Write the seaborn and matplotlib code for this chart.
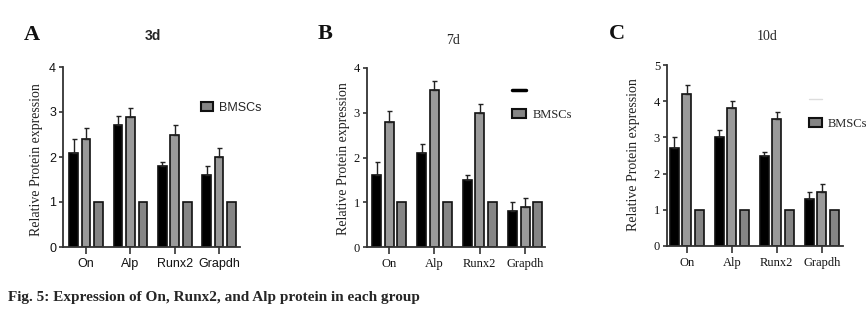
import matplotlib
matplotlib.use("Agg")
import matplotlib.pyplot as plt
import seaborn as sns
import pandas as pd
from matplotlib.patches import Patch
from matplotlib.lines import Line2D

genes = ["On", "Alp", "Runx2", "Grapdh"]
groups = ["Treated", "BMSCs", "Control"]

# 3 days
treated_3d = [2.1, 2.7, 1.8, 1.6]
treated_3d_err = [0.3, 0.2, 0.1, 0.2]
bmscs_3d = [2.4, 2.9, 2.5, 2.0]
bmscs_3d_err = [0.25, 0.2, 0.2, 0.2]
control_3d = [1.0, 1.0, 1.0, 1.0]

# 7 days
treated_7d = [1.6, 2.1, 1.5, 0.8]
treated_7d_err = [0.3, 0.2, 0.1, 0.2]
bmscs_7d = [2.8, 3.5, 3.0, 0.9]
bmscs_7d_err = [0.25, 0.2, 0.2, 0.2]
control_7d = [1.0, 1.0, 1.0, 1.0]

# 10 days
treated_10d = [2.7, 3.0, 2.5, 1.3]
treated_10d_err = [0.3, 0.2, 0.1, 0.2]
bmscs_10d = [4.2, 3.8, 3.5, 1.5]
bmscs_10d_err = [0.25, 0.2, 0.2, 0.2]
control_10d = [1.0, 1.0, 1.0, 1.0]

sns.set_style("ticks")
W, H = 868, 329
fig = plt.figure(figsize=(W / 100, H / 100), dpi=100)

palette = {"Treated": "#000000", "BMSCs": "#9a9a9a", "Control": "#858585"}
SANS = ["Liberation Sans Narrow", "Liberation Sans", "DejaVu Sans"]
SERIF = ["Liberation Serif", "DejaVu Serif"]


def fx(px):
    return px / W


def fy(py):
    return 1 - py / H


def panel(rect, vals, errs, ymax, xlim, font):
    ax = fig.add_axes(rect)
    rows = []
    for g, v in zip(groups, vals):
        for gene, y in zip(genes, v):
            rows.append({"gene": gene, "group": g, "value": y})
    df = pd.DataFrame(rows)
    sns.barplot(data=df, x="gene", y="value", hue="group", order=genes,
                hue_order=groups, palette=palette, width=0.84, gap=0.3,
                edgecolor="#111111", linewidth=1.2, errorbar=None,
                legend=False, ax=ax)
    for cont, v, e in zip(ax.containers[:2], vals[:2], errs):
        xs = [b.get_x() + b.get_width() / 2 for b in cont]
        ax.errorbar(xs, v, yerr=[[0] * len(e), e], fmt="none",
                    ecolor="#222222", elinewidth=1.0, capsize=1.8,
                    capthick=1.0, zorder=1)
    ax.set_ylim(0, ymax)
    ax.set_xlim(*xlim)
    ax.set_yticks(range(0, ymax + 1))
    ax.set_xlabel("")
    ax.set_ylabel("")
    sns.despine(ax=ax)
    for s in ("left", "bottom"):
        ax.spines[s].set_linewidth(1.3)
        ax.spines[s].set_color("#333333")
    ax.tick_params(axis="y", length=3, width=1.2, color="#333333", pad=2)
    ax.tick_params(axis="x", length=5, width=1.2, color="#333333", pad=3)
    for lab in ax.get_xticklabels() + ax.get_yticklabels():
        lab.set_family(font)
        lab.set_fontsize(9)
        lab.set_color("#111111")
    return ax


ax_a = panel([fx(63), fy(247), fx(177), (247 - 67) / H],
             [treated_3d, bmscs_3d, control_3d],
             [treated_3d_err, bmscs_3d_err], 4, (-0.52, 3.47), SANS)
ax_b = panel([fx(367), fy(247), fx(178), (247 - 68) / H],
             [treated_7d, bmscs_7d, control_7d],
             [treated_7d_err, bmscs_7d_err], 4, (-0.49, 3.44), SERIF)
ax_c = panel([fx(667), fy(246), fx(176), (246 - 65) / H],
             [treated_10d, bmscs_10d, control_10d],
             [treated_10d_err, bmscs_10d_err], 5, (-0.44, 3.47), SERIF)

# panel letters and titles
for x, y, t in [(32, 35, "A"), (325, 34, "B"), (617, 34, "C")]:
    fig.text(fx(x), fy(y), t, family=SERIF, weight="bold", fontsize=16,
             ha="center", va="center", color="#111111")
fig.text(fx(153), fy(36), "3d", family=SANS, weight="bold", fontsize=10,
         ha="center", va="center")
fig.text(fx(453), fy(40), "7d", family=SERIF, fontsize=10,
         ha="center", va="center")
fig.text(fx(767), fy(37), "10d", family=SERIF, fontsize=10,
         ha="center", va="center")

# y-axis labels
for x, y in [(37, 160), (343, 159), (633, 155)]:
    fig.text(fx(x), fy(y), "Relative Protein expression", family=SERIF,
             fontsize=10, rotation=90, ha="center", va="center",
             color="#222222")

# legends
bm_patch = Patch(facecolor="#858585", edgecolor="#111111", linewidth=1.5)
fig.legend([bm_patch], ["BMSCs"], loc="center left",
           bbox_to_anchor=(fx(195), fy(108)), frameon=False,
           prop={"family": SANS, "size": 9}, handlelength=0.9,
           handleheight=0.8, handletextpad=0.5, borderpad=0)
fig.legend([Line2D([], [], color="black", lw=2.5), bm_patch], ["", "BMSCs"],
           loc="center left", bbox_to_anchor=(fx(506), fy(103)),
           frameon=False, prop={"family": SERIF, "size": 9},
           handlelength=1.1, handleheight=0.8, handletextpad=0.5,
           labelspacing=0.9, borderpad=0)
fig.legend([Line2D([], [], color="#dddddd", lw=1), bm_patch], ["", "BMSCs"],
           loc="center left", bbox_to_anchor=(fx(803), fy(112)),
           frameon=False, prop={"family": SERIF, "size": 9},
           handlelength=1.0, handleheight=0.8, handletextpad=0.5,
           labelspacing=0.9, borderpad=0)

fig.text(fx(8), fy(298), "Fig. 5: Expression of On, Runx2, and Alp protein in each group",
         family=SERIF, weight="bold", fontsize=11, ha="left", va="center")

fig.savefig("out.png", dpi=100)
